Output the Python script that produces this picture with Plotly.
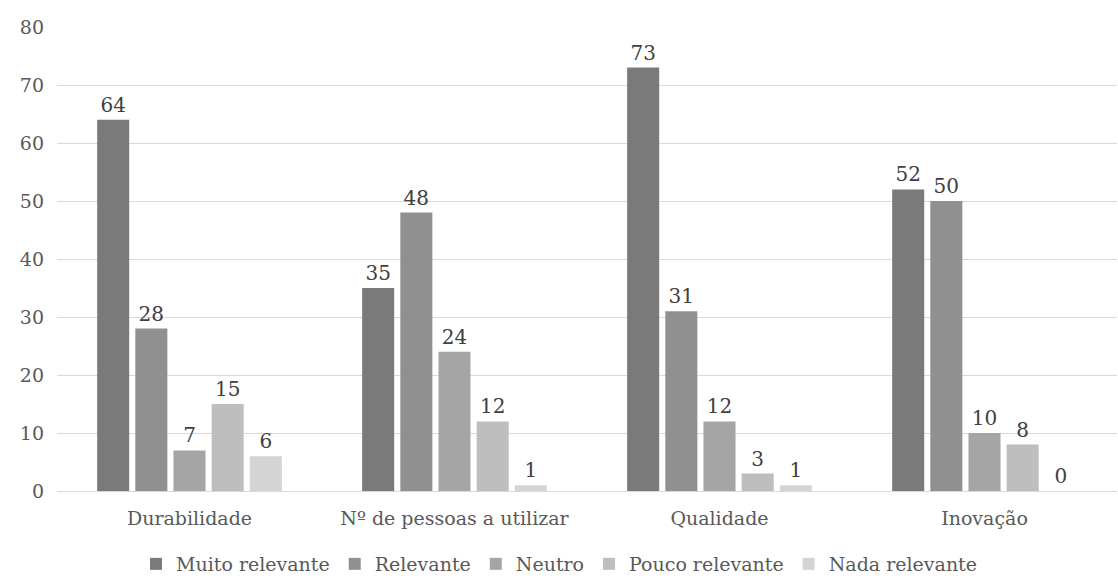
import plotly.graph_objects as go

categories = ["Durabilidade", "Nº de pessoas a utilizar", "Qualidade", "Inovação"]
series_names = ["Muito relevante", "Relevante", "Neutro", "Pouco relevante", "Nada relevante"]
muito_relevante = [64, 35, 73, 52]
relevante = [28, 48, 31, 50]
neutro = [7, 24, 12, 10]
pouco_relevante = [15, 12, 3, 8]
nada_relevante = [6, 1, 1, 0]
y_ticks = [0, 10, 20, 30, 40, 50, 60, 70, 80]

series_values = [muito_relevante, relevante, neutro, pouco_relevante, nada_relevante]
colors = ["#7a7a7a", "#909090", "#a5a5a5", "#bebebe", "#d4d4d4"]

FONT = "DejaVu Serif"

fig = go.Figure()
for name, vals, col in zip(series_names, series_values, colors):
    fig.add_trace(go.Bar(
        x=categories, y=vals, name=name,
        marker=dict(color=col, line=dict(width=0)),
        text=[str(v) for v in vals], textposition="outside",
        textfont=dict(family=FONT, size=20, color="#404040"),
        cliponaxis=False,
    ))

fig.update_layout(
    width=1118, height=583,
    margin=dict(l=57, r=1, t=27, b=92),
    paper_bgcolor="white", plot_bgcolor="white",
    barmode="group", bargap=0.28, bargroupgap=0.16,
    font=dict(family=FONT, size=19, color="#595959"),
    showlegend=True,
    legend=dict(orientation="h", xref="container", x=0.5, xanchor="center",
                yref="container", y=0.0, yanchor="bottom",
                font=dict(family=FONT, size=19, color="#595959"),
                itemwidth=30, tracegroupgap=0, traceorder="normal"),
    xaxis=dict(showgrid=False, showline=False, ticks="", ticklabelstandoff=14,
               tickfont=dict(family=FONT, size=19, color="#595959")),
    yaxis=dict(range=[0, 80], tickvals=y_ticks, showgrid=True, gridcolor="#d9d9d9",
               gridwidth=1, zeroline=True, zerolinecolor="#d9d9d9", zerolinewidth=1,
               showline=False, ticks="", ticklabelstandoff=12,
               tickfont=dict(family=FONT, size=19, color="#595959")),
)

fig.write_html("out.html")
